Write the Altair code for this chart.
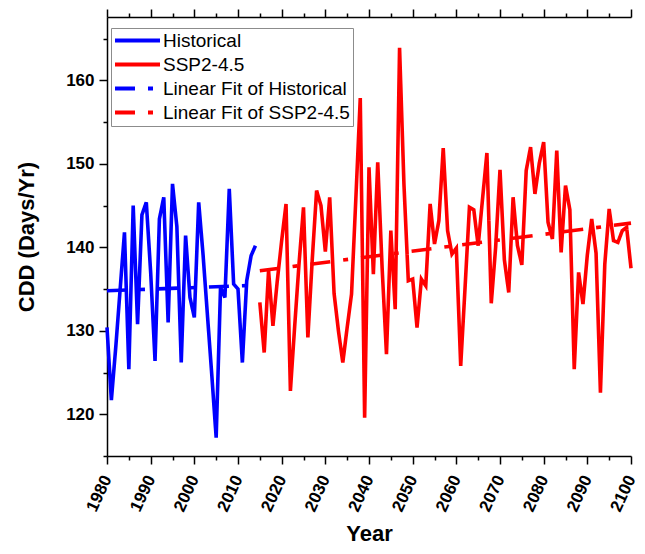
import altair as alt
import pandas as pd

# ---- data ----
hist_years = list(range(1980, 2015))
hist_cdd = [130.4, 121.7, 128.0, 134.9, 141.8, 125.4, 145.0, 130.8, 143.9, 145.4,
            137.0, 126.4, 143.4, 146.0, 131.0, 147.6, 142.5, 126.2, 141.4, 134.0,
            131.6, 145.4, 139.1, 131.9, 124.7, 117.2, 135.2, 134.0, 147.0, 135.6,
            135.0, 126.2, 136.0, 139.0, 140.2]

ssp_years = list(range(2015, 2101))
ssp_cdd = [133.4, 127.4, 137.2, 130.6, 136.0, 140.8, 145.2, 122.8, 130.7, 138.2,
           144.8, 129.2, 138.5, 146.8, 145.0, 139.5, 146.0, 134.5, 130.0, 126.2,
           130.4, 134.4, 146.0, 157.9, 119.6, 149.6, 136.8, 150.2, 137.6, 127.2,
           142.0, 132.6, 163.9, 147.6, 136.0, 136.2, 130.4, 136.2, 135.4, 145.2,
           140.4, 143.2, 151.9, 142.0, 139.2, 139.9, 125.8, 135.2, 144.8, 144.5,
           140.2, 145.8, 151.3, 133.3, 140.0, 149.3, 138.5, 134.6, 146.0, 140.2,
           137.9, 149.2, 152.0, 146.4, 150.1, 152.6, 143.0, 141.0, 151.6, 139.4,
           147.4, 144.5, 125.4, 137.0, 133.2, 139.1, 143.4, 139.3, 122.6, 138.0,
           144.6, 140.8, 140.6, 142.0, 142.4, 137.5]

fit_hist_years = [1980, 2014]
fit_hist_cdd = [134.8, 135.45]
fit_ssp_years = [2015, 2100]
fit_ssp_cdd = [137.2, 142.9]

series_names = ["Historical", "SSP2-4.5", "Linear Fit of Historical", "Linear Fit of SSP2-4.5"]
series_colors = ["#0000FF", "#FF0000", "#0000FF", "#FF0000"]
series_dash = [[1, 0], [1, 0], [20, 13, 5, 13], [20, 13, 5, 13]]

x_ticks = list(range(1980, 2101, 5))
y_ticks = list(range(115, 168, 5))

rows = []
for yrs, vals, name in [(hist_years, hist_cdd, series_names[0]),
                        (ssp_years, ssp_cdd, series_names[1]),
                        (fit_hist_years, fit_hist_cdd, series_names[2]),
                        (fit_ssp_years, fit_ssp_cdd, series_names[3])]:
    for y, v in zip(yrs, vals):
        rows.append({"year": y, "cdd": v, "series": name})
df = pd.DataFrame(rows)

FONT = "Liberation Sans"
x_scale = alt.Scale(domain=[1980, 2100], nice=False, zero=False)
y_scale = alt.Scale(domain=[115, 167.6], nice=False, zero=False)
tick_cond = {"condition": {"test": "datum.value % 10 === 0", "value": 8}, "value": 4}


def make_legend():
    return alt.Legend(orient="none", legendX=4, legendY=11, title=None,
                      symbolType="M-3,0H3", symbolSize=225,
                      symbolStrokeWidth=4, symbolOffset=14,
                      labelFontSize=19, labelFont=FONT, labelColor="black",
                      labelOffset=16, rowPadding=4, padding=3,
                      strokeColor="#8c8c8c", fillColor="white", labelLimit=400)


lines = alt.Chart(df).mark_line(strokeWidth=3.6).encode(
    x=alt.X("year:Q", scale=x_scale,
            axis=alt.Axis(orient="bottom", values=x_ticks, format="d",
                          labelExpr="datum.value % 10 === 0 ? datum.label : ''",
                          labelAngle=-65, labelFontSize=17, labelFontWeight="bold",
                          labelFont=FONT, labelColor="black", labelFlush=False,
                          labelOverlap=False, labelPadding=12,
                          tickSize=tick_cond, tickColor="black", tickWidth=1.5,
                          domainColor="black", domainWidth=1.5, grid=False,
                          title="Year", titleFont=FONT, titleFontSize=22,
                          titleFontWeight="bold", titleColor="black", titlePadding=10)),
    y=alt.Y("cdd:Q", scale=y_scale,
            axis=alt.Axis(orient="left", values=y_ticks, format="d",
                          labelExpr="datum.value % 10 === 0 ? datum.label : ''",
                          labelFontSize=17, labelFontWeight="bold", labelFont=FONT,
                          labelColor="black", labelPadding=5, labelFlush=False,
                          labelOverlap=False,
                          tickSize=tick_cond, tickColor="black", tickWidth=1.5,
                          domainColor="black", domainWidth=1.5, grid=False,
                          title="CDD (Days/Yr)", titleFont=FONT, titleFontSize=22,
                          titleFontWeight="bold", titleColor="black", titlePadding=27)),
    color=alt.Color("series:N", scale=alt.Scale(domain=series_names, range=series_colors),
                    legend=make_legend()),
    strokeDash=alt.StrokeDash("series:N",
                              scale=alt.Scale(domain=series_names, range=series_dash),
                              legend=make_legend()),
    order=alt.Order("year:Q"),
)

top_axis = alt.Chart(df).mark_point(opacity=0).encode(
    x=alt.X("year:Q", scale=x_scale,
            axis=alt.Axis(orient="top", values=x_ticks, labels=False, title=None,
                          tickSize=tick_cond, tickColor="black", tickWidth=1.5,
                          domainColor="black", domainWidth=1.5, grid=False)),
)

chart = alt.layer(lines, top_axis).resolve_axis(x="independent").properties(
    width=524, height=439,
    autosize=alt.AutoSizeParams(type="none"),
    padding={"left": 99, "top": 9, "right": 6, "bottom": 90},
    background="white",
).configure_view(stroke=None)

chart.save("out.html", embed_options={"renderer": "svg", "actions": False})
